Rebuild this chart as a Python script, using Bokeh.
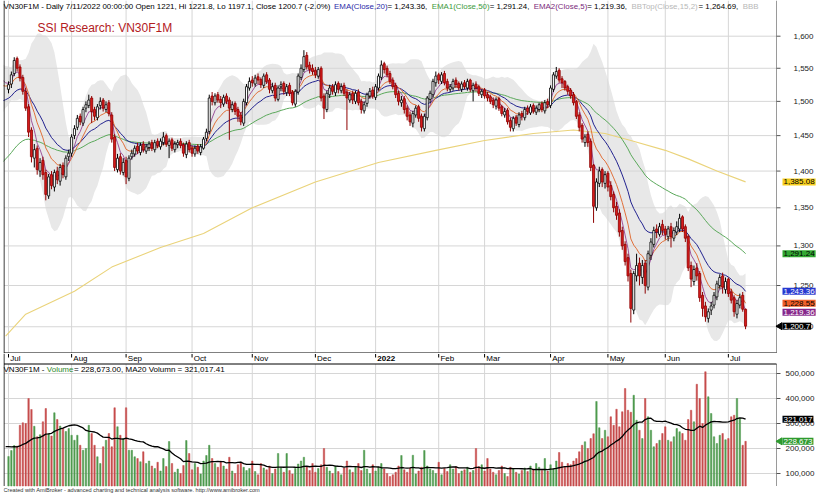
import numpy as np
import pandas as pd
from bokeh.plotting import figure
from bokeh.models import ColumnDataSource, Range1d, Label
from bokeh.layouts import column
from bokeh.embed import file_html
from bokeh.resources import INLINE
from bokeh.core.properties import value

# ---------------- data ----------------
pre_closes = [1440, 1452, 1470, 1462, 1485, 1500, 1492, 1510, 1525, 1518,
              1530, 1545, 1538, 1520, 1505, 1512, 1530, 1548, 1535, 1520]
pre_volumes = [180000, 210000, 195000, 230000, 205000, 190000, 215000, 240000, 200000, 185000,
               225000, 210000, 195000, 220000, 235000, 205000, 190000, 215000, 200000, 210000]

opens = [1518,1526,1542,1565,1552,1536,1515,1492,1458,1418,
         1432,1400,1415,1398,1366,1395,1378,1400,1386,1408,
         1392,1420,1425,1450,1462,1478,1468,1490,1494,1505,
         1488,1476,1494,1502,1488,1498,1480,1448,1402,1420,
         1398,1415,1390,1420,1424,1435,1426,1438,1428,1433,
         1440,1430,1442,1434,1440,1450,1436,1444,1430,1437,
         1442,1437,1423,1440,1432,1424,1435,1426,1432,1446,
         1456,1508,1498,1510,1503,1496,1508,1502,1488,1497,
         1488,1480,1468,1498,1520,1532,1526,1537,1533,1524,
         1540,1532,1516,1524,1503,1522,1527,1513,1524,1514,
         1496,1514,1536,1548,1570,1555,1550,1547,1538,1550,
         1508,1488,1510,1522,1513,1527,1516,1524,1514,1502,
         1512,1500,1514,1500,1486,1497,1508,1517,1506,1520,
         1536,1557,1550,1542,1532,1524,1512,1498,1504,1490,
         1480,1468,1480,1492,1478,1460,1476,1503,1510,1528,
         1540,1530,1542,1530,1518,1520,1532,1527,1518,1528,
         1520,1532,1516,1526,1522,1510,1517,1510,1507,1502,
         1493,1504,1492,1480,1487,1472,1460,1477,1466,1482,
         1476,1490,1483,1494,1484,1488,1497,1486,1500,1494,
         1518,1538,1547,1534,1530,1522,1517,1510,1500,1480,
         1465,1440,1452,1442,1408,1350,1383,1402,1383,1397,
         1380,1368,1352,1343,1320,1302,1285,1265,1220,1262,
         1278,1260,1278,1248,1288,1302,1322,1315,1328,1322,
         1312,1325,1310,1318,1322,1338,1325,1312,1275,1255,
         1272,1265,1238,1225,1210,1220,1226,1236,1250,1262,
         1245,1258,1242,1235,1215,1226,1238,1221]
highs = [1530,1545,1567,1568,1556,1540,1520,1496,1462,1438,
         1436,1418,1420,1402,1396,1400,1402,1406,1410,1412,
         1422,1430,1452,1465,1480,1482,1492,1500,1510,1508,
         1492,1496,1506,1505,1500,1502,1484,1452,1424,1425,
         1418,1420,1422,1430,1436,1440,1440,1442,1438,1442,
         1444,1444,1446,1446,1455,1453,1446,1447,1442,1444,
         1446,1440,1442,1444,1436,1436,1438,1438,1448,1460,
         1510,1514,1512,1514,1508,1510,1512,1506,1500,1500,
         1492,1484,1504,1526,1536,1538,1540,1542,1536,1542,
         1544,1535,1528,1528,1524,1530,1530,1526,1528,1517,
         1518,1542,1556,1578,1575,1560,1556,1552,1552,1553,
         1512,1516,1525,1526,1530,1530,1527,1528,1518,1514,
         1516,1516,1518,1504,1500,1513,1520,1522,1526,1542,
         1562,1560,1554,1546,1536,1528,1516,1508,1508,1494,
         1485,1486,1494,1495,1482,1482,1508,1516,1534,1545,
         1543,1544,1546,1534,1526,1534,1536,1530,1530,1532,
         1534,1534,1528,1530,1525,1518,1520,1514,1510,1506,
         1506,1507,1495,1490,1490,1476,1478,1480,1484,1486,
         1492,1494,1496,1497,1494,1498,1500,1502,1504,1524,
         1544,1552,1550,1538,1532,1525,1520,1514,1502,1484,
         1468,1452,1456,1446,1410,1390,1406,1405,1400,1400,
         1386,1372,1358,1348,1325,1306,1290,1270,1268,1290,
         1285,1282,1282,1294,1310,1325,1328,1330,1334,1326,
         1326,1330,1324,1332,1342,1340,1328,1315,1280,1275,
         1278,1268,1242,1230,1222,1230,1242,1256,1264,1266,
         1260,1260,1246,1238,1232,1240,1242,1221.8]
lows = [1512,1520,1538,1545,1530,1510,1486,1448,1412,1405,
        1395,1392,1388,1360,1362,1375,1372,1382,1380,1390,
        1388,1414,1420,1445,1458,1465,1464,1484,1490,1468,
        1472,1472,1488,1485,1484,1478,1440,1400,1398,1395,
        1394,1382,1386,1416,1420,1424,1422,1426,1424,1428,
        1428,1426,1432,1430,1436,1434,1418,1428,1426,1432,
        1432,1420,1418,1426,1420,1420,1424,1422,1430,1442,
        1452,1494,1494,1498,1490,1492,1496,1444,1484,1480,
        1470,1465,1464,1494,1516,1522,1522,1526,1520,1520,
        1526,1512,1512,1500,1500,1515,1510,1508,1508,1494,
        1492,1510,1532,1544,1548,1542,1540,1535,1534,1500,
        1474,1484,1505,1510,1508,1512,1512,1508,1458,1498,
        1496,1496,1494,1482,1482,1492,1504,1504,1502,1516,
        1532,1542,1536,1526,1518,1505,1494,1492,1482,1472,
        1464,1462,1476,1470,1456,1456,1472,1498,1506,1522,
        1526,1526,1524,1515,1514,1516,1520,1516,1514,1518,
        1516,1514,1500,1515,1508,1505,1504,1500,1496,1490,
        1488,1486,1478,1476,1466,1456,1456,1464,1462,1472,
        1472,1480,1480,1482,1480,1484,1484,1482,1490,1490,
        1514,1534,1528,1520,1516,1510,1504,1494,1474,1456,
        1440,1434,1434,1400,1330,1346,1378,1378,1376,1372,
        1360,1344,1334,1312,1295,1275,1255,1205,1215,1255,
        1250,1252,1240,1244,1282,1298,1310,1312,1314,1308,
        1306,1298,1306,1314,1318,1318,1305,1268,1248,1250,
        1256,1230,1212,1206,1205,1214,1222,1232,1246,1240,
        1240,1236,1228,1212,1210,1222,1218,1197.1]
closes = [1525,1540,1562,1550,1535,1515,1490,1455,1420,1430,
          1402,1412,1395,1368,1392,1380,1398,1388,1405,1395,
          1418,1425,1448,1460,1475,1470,1488,1495,1502,1485,
          1478,1492,1500,1490,1495,1482,1445,1405,1418,1400,
          1412,1392,1418,1425,1432,1428,1436,1430,1434,1438,
          1432,1440,1436,1442,1448,1438,1442,1432,1438,1440,
          1436,1425,1438,1430,1425,1432,1428,1434,1445,1455,
          1505,1500,1508,1502,1498,1506,1500,1490,1495,1485,
          1478,1470,1500,1522,1530,1528,1535,1532,1525,1538,
          1530,1518,1522,1505,1520,1525,1515,1522,1512,1498,
          1515,1538,1550,1568,1552,1548,1545,1540,1548,1505,
          1490,1512,1520,1515,1525,1518,1522,1512,1505,1510,
          1502,1512,1498,1488,1495,1510,1515,1508,1522,1538,
          1555,1548,1540,1530,1522,1510,1500,1502,1488,1478,
          1470,1482,1490,1475,1462,1478,1505,1512,1530,1538,
          1532,1540,1528,1520,1522,1530,1525,1520,1526,1522,
          1530,1518,1524,1520,1512,1515,1508,1505,1500,1495,
          1502,1490,1482,1485,1470,1462,1475,1468,1480,1478,
          1488,1485,1492,1486,1490,1495,1488,1498,1495,1520,
          1540,1545,1532,1528,1520,1515,1508,1498,1478,1462,
          1445,1448,1440,1405,1352,1385,1400,1385,1395,1378,
          1365,1350,1340,1318,1300,1280,1262,1222,1265,1275,
          1262,1275,1250,1290,1305,1320,1318,1325,1320,1315,
          1322,1312,1320,1325,1336,1322,1310,1272,1258,1270,
          1262,1235,1222,1212,1218,1225,1238,1252,1260,1248,
          1255,1240,1232,1218,1228,1235,1221,1200.7]
volumes = [168000,192000,212000,210000,293000,303000,300000,400000,356000,289000,
           247000,255000,307000,360000,260000,250000,343000,316000,290000,280000,
           268000,280000,253000,233000,253000,213000,193000,200000,293000,260000,
           213000,167000,140000,207000,233000,260000,207000,363000,287000,253000,
           240000,363000,193000,193000,167000,160000,147000,187000,140000,150000,
           130000,120000,145000,110000,160000,128000,228000,140000,105000,118000,
           100000,132000,232000,180000,115000,140000,125000,98000,150000,172000,
           213000,160000,140000,125000,150000,130000,118000,165000,110000,100000,
           135000,145000,125000,112000,120000,150000,108000,95000,140000,122000,
           115000,130000,100000,118000,180000,125000,105000,180000,112000,98000,
           120000,138000,150000,165000,128000,112000,140000,105000,120000,135000,
           200000,125000,110000,100000,130000,108000,95000,122000,150000,115000,
           105000,128000,140000,112000,193000,118000,100000,135000,110000,125000,
           140000,118000,100000,88000,95000,105000,130000,172000,115000,105000,
           122000,173000,98000,110000,125000,192000,130000,118000,112000,100000,
           145000,95000,120000,108000,135000,118000,128000,100000,110000,115000,
           125000,105000,112000,200000,128000,135000,110000,160000,118000,105000,
           95000,112000,130000,100000,88000,125000,118000,105000,98000,112000,
           122000,108000,130000,118000,140000,125000,112000,160000,110000,135000,
           120000,150000,184000,145000,128000,140000,135000,150000,160000,187000,
           213000,227000,200000,240000,259000,388000,283000,240000,273000,247000,
           327000,293000,357000,287000,347000,440000,353000,345000,413000,313000,
           273000,240000,400000,327000,273000,207000,220000,233000,260000,287000,
           233000,227000,247000,280000,267000,260000,233000,316000,353000,307000,
           457000,400000,300000,507000,407000,340000,247000,220000,253000,260000,
           235000,240000,327000,333000,400000,320000,213000,228673]

month_idx = [0, 22, 41, 64, 85, 107, 128, 150, 166, 189, 209, 229, 251]
month_labels = ["Jul", "Aug", "Sep", "Oct", "Nov", "Dec", "2022", "Feb", "Mar", "Apr", "May", "Jun", "Jul"]

long_ma_idx = [-1, 6, 23, 36, 53, 68, 85, 107, 129, 149, 166, 183, 197, 208, 217, 229, 237, 247, 257]
long_ma_val = [1189, 1215, 1243, 1273, 1298, 1316, 1350, 1385, 1412, 1429, 1443, 1453, 1458, 1453,
               1443, 1429, 1417, 1400, 1385.08]

ema_seeds = {5: 1440, 10: 1430, 20: 1400, 50: 1300}
price_ticks = [1200, 1250, 1300, 1350, 1400, 1450, 1500, 1550, 1600]
price_tick_labels = ["1,200", "1,250", "1,300", "1,350", "1,400", "1,450", "1,500", "1,550", "1,600"]
volume_ticks = [100000, 200000, 300000, 400000, 500000]
volume_tick_labels = ["100,000", "200,000", "300,000", "400,000", "500,000"]

# ---------------- layout constants (pixels) ----------------
W = 821
FRAME_L, AXIS_X = 3, 776
BAR0_PX, BAR_PX = 8.0, 2.868
FONT = "Liberation Sans"
GRID = "#d6d6d6"
PRICE_H = 353

ARIAL = {' ': 278, '!': 278, '%': 889, '(': 333, ')': 333, ',': 278, '-': 333, '.': 278, '/': 278,
         ':': 278, '=': 584, 'A': 667, 'B': 667, 'C': 722, 'D': 722, 'E': 667, 'F': 611, 'H': 722,
         'I': 278, 'L': 556, 'M': 833, 'N': 722, 'O': 778, 'P': 667, 'R': 722, 'S': 667, 'T': 611,
         'V': 667, 'W': 944, 'a': 556, 'b': 556, 'c': 500, 'd': 556, 'e': 556, 'h': 556, 'i': 222,
         'l': 222, 'm': 833, 'n': 556, 'o': 556, 'p': 556, 'r': 333, 's': 500, 't': 278, 'u': 556,
         'v': 500, 'y': 500, 'w': 722, 'k': 500, 'g': 556, 'f': 278, 'x': 500}


def text_em(t):
    return sum(ARIAL.get(ch, 556) for ch in t) / 1000.0


def px_x(px):
    return (px - BAR0_PX) / BAR_PX


def price_at(ypx):
    return 1600.0 * np.exp(-(ypx - 35.7) / 1010.0)


def vol_at(ypx):
    return (498.0 - ypx) * 4000.0


x_range = Range1d(px_x(FRAME_L), px_x(W))
XL, XA = px_x(FRAME_L + 0.5), px_x(AXIS_X)

# ---------------- indicators ----------------
n_pre = len(pre_closes)
all_close = np.array(pre_closes + closes, dtype=float)
x_all = np.arange(-n_pre, len(closes))


def ema(vals, period, seed):
    k = 2.0 / (period + 1)
    out, e = [], seed
    for v in vals:
        e = e + k * (v - e)
        out.append(e)
    return np.array(out)


ema5 = ema(all_close, 5, ema_seeds[5])
ema10 = ema(all_close, 10, ema_seeds[10])
ema20 = ema(all_close, 20, ema_seeds[20])
ema50 = ema(all_close, 50, ema_seeds[50])
s = pd.Series(all_close)
mid = s.rolling(15).mean()
sd = s.rolling(15).std(ddof=0)
bb_top = (mid + 2 * sd).to_numpy()
bb_bot = (mid - 2 * sd).to_numpy()
ok = ~np.isnan(bb_top)

all_vol = pd.Series(np.array(pre_volumes + volumes, dtype=float))
vol_ma = all_vol.rolling(20).mean().to_numpy()
okv = ~np.isnan(vol_ma)


def base_fig(height, y_range, **kw):
    f = figure(width=W, height=height, x_range=x_range, y_range=y_range,
               x_axis_location=None, y_axis_location=None, toolbar_location=None,
               output_backend="svg", title=None, min_border_left=FRAME_L, min_border_right=0,
               min_border_top=0, min_border_bottom=0, **kw)
    f.outline_line_color = None
    f.xgrid.visible = False
    f.ygrid.visible = False
    return f


def draw_axis(f, ticks, labels, y_lo, y_hi, label_px):
    f.segment(x0=[XL] * len(ticks), x1=[XA] * len(ticks), y0=ticks, y1=ticks,
              line_color=GRID, line_width=1)
    f.segment(x0=month_idx, x1=month_idx, y0=[y_lo] * len(month_idx), y1=[y_hi] * len(month_idx),
              line_color=GRID, line_width=1)
    f.segment(x0=[XA], x1=[XA], y0=[y_lo], y1=[y_hi], line_color="#9a9a9a", line_width=1)
    f.segment(x0=[XA] * len(ticks), x1=[px_x(AXIS_X + 4)] * len(ticks), y0=ticks, y1=ticks,
              line_color="#555555", line_width=1)
    f.text(x=[px_x(label_px)] * len(ticks), y=ticks, text=labels, text_font=value(FONT),
           text_font_size="8px", text_color="#222222", text_baseline="middle", text_align="left")


def value_label(f, y, t, bg, tc, arrow=False):
    f.add_layout(Label(x=px_x(782), y=y, text=t, text_color=tc, text_font=FONT, text_font_size="8px",
                       text_baseline="middle", background_fill_color=bg, background_fill_alpha=1.0,
                       padding=1))
    if arrow:
        f.scatter(x=[px_x(779.5)], y=[y], marker="triangle", size=7, angle=np.pi / 2,
                  fill_color=bg, line_color=bg)


def header(f, y, parts, x0, target_w):
    total = sum(text_em(t) for t, _ in parts)
    fs = target_w / total
    xp = x0
    for t, col in parts:
        f.add_layout(Label(x=px_x(xp), y=y, text=t, text_color=col, text_font=FONT,
                           text_font_size=f"{fs:.2f}px", text_baseline="middle"))
        xp += text_em(t) * fs


# ---------------- price panel ----------------
idx = np.arange(len(closes))
o = np.array(opens, float)
c = np.array(closes, float)
up = c >= o
src = ColumnDataSource(dict(
    x=idx, h=np.array(highs, float), l=np.array(lows, float),
    top=np.maximum(o, c), bot=np.minimum(o, c),
    fill=np.where(up, "#ffffff", "#d81c1c"),
    edge=np.where(up, "#000000", "#8e0000"),
))

P_BOT, P_TOP = price_at(PRICE_H), price_at(0)
p = base_fig(PRICE_H, Range1d(P_BOT, P_TOP), y_axis_type="log")
p.varea(x=x_all[ok], y1=bb_bot[ok], y2=bb_top[ok], fill_color="#e8e8e8", fill_alpha=1.0)
draw_axis(p, price_ticks, price_tick_labels, P_BOT, P_TOP, 793)
p.line(long_ma_idx, long_ma_val, line_color="#ead37a", line_width=1.1)
p.line(x_all, ema50, line_color="#5aa85a", line_width=1)
p.line(x_all, ema20, line_color="#22228f", line_width=1)
p.line(x_all, ema10, line_color="#e0703a", line_width=1)
p.line(x_all, ema5, line_color="#8a2f8a", line_width=0.8)
p.segment(x0="x", x1="x", y0="l", y1="h", line_color="edge", line_width=1, source=src)
p.vbar(x="x", top="top", bottom="bot", width=0.72, fill_color="fill", line_color="edge",
       line_width=0.8, source=src)
p.segment(x0=[XL], x1=[XL], y0=[P_BOT], y1=[P_TOP], line_color="#000000", line_width=1)
yb = price_at(352.5)
p.segment(x0=[XL], x1=[XA], y0=[yb], y1=[yb], line_color="#000000", line_width=1)

header(p, price_at(6), [
    ("VN30F1M - Daily 7/11/2022 00:00:00 Open 1221, Hi 1221.8, Lo 1197.1, Close 1200.7 (-2.0%) ", "#000000"),
    ("EMA(Close,20)", "#2a2aa8"),
    (" = 1,243.36, ", "#000000"),
    ("EMA1(Close,50)", "#3c9a3c"),
    (" = 1,291.24, ", "#000000"),
    ("EMA2(Close,5)", "#7b2a7b"),
    (" = 1,219.36, ", "#000000"),
    ("BBTop(Close,15,2)", "#b8b8b8"),
    (" = 1,264.69, ", "#000000"),
    ("BBB", "#b8b8b8"),
], 3, 755)
p.add_layout(Label(x=px_x(37), y=price_at(27.5), text="SSI Research: VN30F1M", text_color="#b3201e",
                   text_font=FONT, text_font_size="12px", text_baseline="alphabetic"))

value_label(p, long_ma_val[-1], "1,385.08", "#f7cf1f", "#000000")
value_label(p, float(ema50[-1]), "1,291.24", "#33a833", "#000000")
value_label(p, float(ema20[-1]), "1,243.36", "#2638d0", "#ffffff")
value_label(p, float(ema10[-1]), "1,228.55", "#f0602a", "#000000")
value_label(p, float(ema5[-1]) - 2, "1,219.36", "#86278a", "#ffffff")
value_label(p, closes[-1], "1,200.7", "#000000", "#ffffff", arrow=True)

# ---------------- volume panel (with the month strip on top) ----------------
V_BOT, V_TOP = vol_at(493), vol_at(PRICE_H)
V_FRAME_TOP = vol_at(363.5)
V_FRAME_BOT = vol_at(485.5)
vsrc = ColumnDataSource(dict(x=idx, v=np.array(volumes, float),
                             col=np.where(up, "#4f9a4f", "#c64c4c")))
vp = base_fig(493 - PRICE_H, Range1d(V_BOT, V_TOP))
draw_axis(vp, volume_ticks, volume_tick_labels, V_FRAME_BOT, V_FRAME_TOP, 785)
vp.vbar(x="x", top="v", bottom=V_FRAME_BOT, width=0.5, fill_color="col", line_color="col",
        line_width=0.5, source=vsrc)
vp.line(x_all[okv], vol_ma[okv], line_color="#000000", line_width=1.3)
vp.segment(x0=[XL], x1=[XL], y0=[V_FRAME_BOT], y1=[V_TOP], line_color="#000000", line_width=1)
vp.segment(x0=[XL], x1=[XA], y0=[V_FRAME_TOP], y1=[V_FRAME_TOP], line_color="#000000", line_width=1)

# month labels
msrc = ColumnDataSource(dict(x=[m + 0.6 for m in month_idx], tx=month_idx, text=month_labels,
                             style=["bold" if m == "2022" else "normal" for m in month_labels]))
vp.segment(x0="tx", x1="tx", y0=vol_at(353.5), y1=vol_at(357), line_color="#000000", line_width=1,
           source=msrc)
vp.text(x="x", y=vol_at(358.3), text="text", text_font=value(FONT), text_font_size="8px",
        text_font_style="style", text_baseline="middle", text_align="left",
        text_color="#000000", source=msrc)

header(vp, vol_at(368.5), [("VN30F1M - ", "#000000"), ("Volume", "#2f8a2f"),
                           (" = 228,673.00, MA20 Volumn = 321,017.41", "#000000")], 3, 224)
header(vp, vol_at(489), [("Created with AmiBroker - advanced charting and technical analysis software. http://www.amibroker.com", "#333333")], 3, 257)

value_label(vp, float(vol_ma[-1]), "321,017", "#000000", "#ffffff")
value_label(vp, float(volumes[-1]), "228,673", "#2e9a2e", "#ffffff", arrow=True)

layout = column(p, vp, spacing=0)
open("out.html", "w").write(file_html(layout, INLINE))
